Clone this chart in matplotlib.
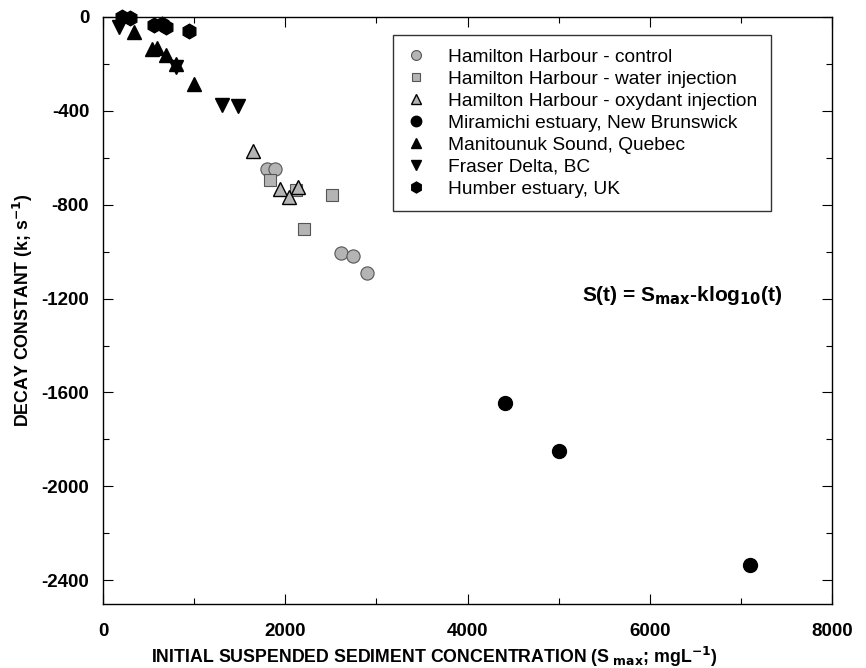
import matplotlib.pyplot as plt
from matplotlib.ticker import MultipleLocator

# decay constant k vs initial suspended sediment concentration
hh_control_x = [1795, 1890, 2612, 2740, 2898]
hh_control_y = [-647, -650, -1004, -1020, -1091]

hh_water_x = [1835, 2117, 2509, 2209]
hh_water_y = [-697, -739, -760, -902]

hh_oxy_x = [1648, 1941, 2036, 2143]
hh_oxy_y = [-573, -732, -767, -725]

miramichi_x = [4410, 5003, 7099]
miramichi_y = [-1644, -1850, -2335]

manitounuk_x = [341, 542, 597, 689, 799, 1000]
manitounuk_y = [-65, -136, -133, -165, -200, -285]

fraser_x = [176, 799, 1304, 1476]
fraser_y = [-44, -214, -377, -380]

humber_x = [205, 293, 560, 652, 689, 945]
humber_y = [0, -5, -37, -30, -44, -61]

plt.rcParams["font.family"] = ["Liberation Sans", "DejaVu Sans"]
plt.rcParams["axes.unicode_minus"] = False
plt.rcParams["mathtext.default"] = "regular"

fig = plt.figure(figsize=(8.66, 6.68), dpi=100)
ax = fig.add_axes([0.119, 0.096, 0.842, 0.879])

grey = "#b4b4b4"
edge = "#555555"
kw = dict(linestyle="none", clip_on=False)
ax.plot(hh_control_x, hh_control_y, "o", ms=9.5, mfc=grey, mec=edge, mew=0.8,
        label="Hamilton Harbour - control", **kw)
ax.plot(hh_water_x, hh_water_y, "s", ms=8.5, mfc=grey, mec=edge, mew=0.8,
        label="Hamilton Harbour - water injection", **kw)
ax.plot(hh_oxy_x, hh_oxy_y, "^", ms=10, mfc=grey, mec="black", mew=1.0,
        label="Hamilton Harbour - oxydant injection", **kw)
ax.plot(miramichi_x, miramichi_y, "o", ms=10, color="black",
        label="Miramichi estuary, New Brunswick", **kw)
ax.plot(manitounuk_x, manitounuk_y, "^", ms=10, color="black",
        label="Manitounuk Sound, Quebec", **kw)
ax.plot(fraser_x, fraser_y, "v", ms=10, color="black",
        label="Fraser Delta, BC", **kw)
ax.plot(humber_x, humber_y, "h", ms=10.5, color="black",
        label="Humber estuary, UK", **kw)

ax.set_xlim(0, 8000)
ax.set_ylim(-2500, 0)
ax.xaxis.set_major_locator(MultipleLocator(2000))
ax.xaxis.set_minor_locator(MultipleLocator(1000))
ax.yaxis.set_major_locator(MultipleLocator(400))
ax.yaxis.set_minor_locator(MultipleLocator(200))
ax.tick_params(which="both", direction="in", top=True, right=True, width=0.8)
ax.tick_params(which="major", length=7)
ax.tick_params(which="minor", length=4)
ax.tick_params(axis="x", which="major", pad=14)
ax.tick_params(axis="y", which="major", pad=10)
for lab in ax.get_xticklabels() + ax.get_yticklabels():
    lab.set_fontweight("bold")
    lab.set_fontsize(13.5)
for sp in ax.spines.values():
    sp.set_linewidth(1.0)

# axis titles placed in figure coordinates
fig.text(0.501, 1 - 657 / 668,
         r"INITIAL SUSPENDED SEDIMENT CONCENTRATION (S$_{\ \mathbf{max}}$; mgL$^{\mathbf{-1}}$)",
         fontsize=12.8, fontweight="bold", ha="center", va="center")
fig.text(23 / 866, 1 - 310 / 668, r"DECAY CONSTANT (k; s$^{\mathbf{-1}}$)",
         fontsize=12.8, fontweight="bold", ha="center", va="center", rotation=90)

ax.text(6350, -1187, r"S(t) = S$_{\mathbf{max}}$-klog$_{\mathbf{10}}$(t)",
        fontsize=15, fontweight="bold", ha="center", va="center")

leg = ax.legend(loc="upper left", bbox_to_anchor=(0.397, 0.969), fontsize=13.8,
                frameon=True, fancybox=False, edgecolor="black", markerscale=0.75,
                handlelength=1.0, handletextpad=1.2, labelspacing=0.24,
                borderpad=0.7, borderaxespad=0)
leg.get_frame().set_linewidth(1.0)

fig.savefig("out.png", dpi=100)
